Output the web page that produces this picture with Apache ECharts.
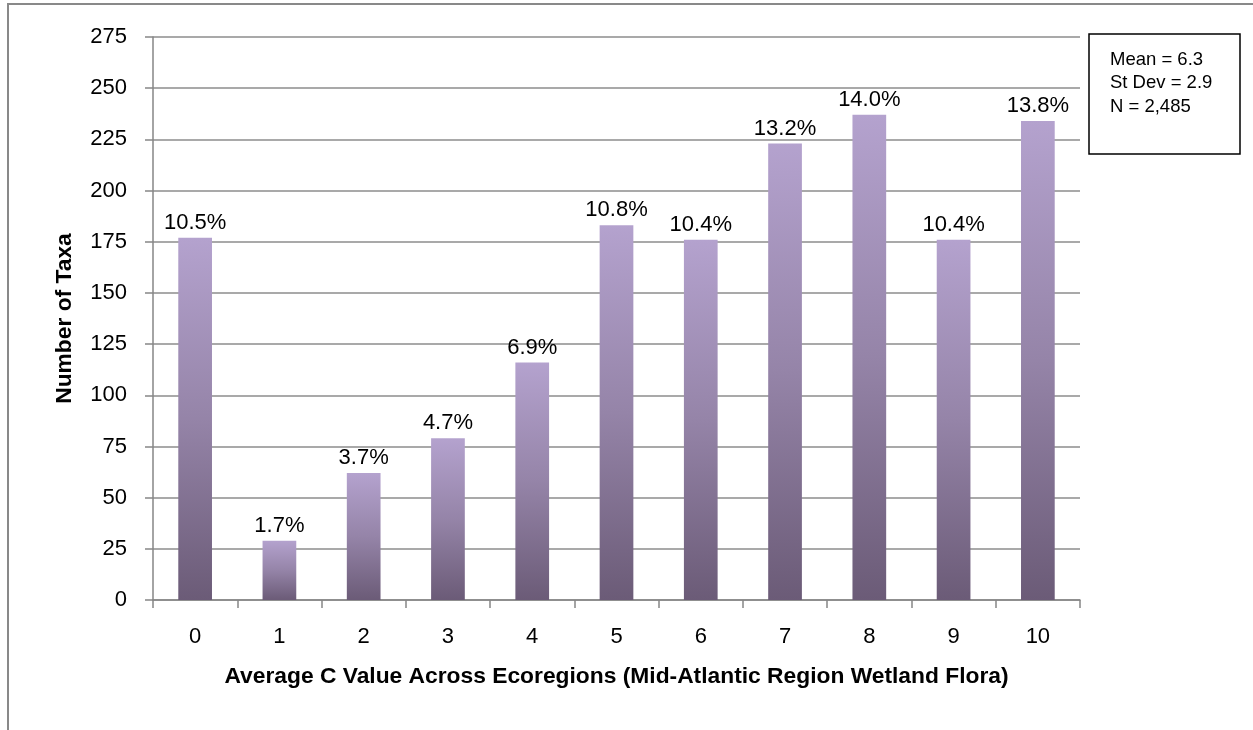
<!DOCTYPE html>
<html>
<head>
<meta charset="utf-8">
<script src="https://cdn.jsdelivr.net/npm/echarts@6/dist/echarts.min.js"></script>
<style>
html,body{margin:0;padding:0;background:#fff;}
#chart{width:1253px;height:730px;}
</style>
</head>
<body>
<div id="chart"></div>
<script>
var categories = ['0','1','2','3','4','5','6','7','8','9','10'];
var taxaCounts = [177, 29, 62, 79, 116, 183, 176, 223, 237, 176, 234];
var percentLabels = ['10.5%','1.7%','3.7%','4.7%','6.9%','10.8%','10.4%','13.2%','14.0%','10.4%','13.8%'];
var yTicks = {min: 0, max: 275, interval: 25};
var statsLines = ['Mean = 6.3', 'St Dev = 2.9', 'N = 2,485'];
var xTitle = 'Average C Value Across Ecoregions (Mid-Atlantic Region Wetland Flora)';
var yTitle = 'Number of Taxa';

var FONT = 'Liberation Sans';
var chart = echarts.init(document.getElementById('chart'), null, {renderer: 'canvas'});
var option = {
  backgroundColor: '#ffffff',
  animation: false,
  grid: {left: 153, right: 173, top: 37, bottom: 130},
  xAxis: {
    type: 'category',
    data: categories,
    name: xTitle,
    nameLocation: 'middle',
    nameGap: 65,
    nameTextStyle: {fontFamily: FONT, fontSize: 22.8, fontWeight: 'bold', color: '#000'},
    axisLine: {lineStyle: {color: '#868686', width: 1.5}},
    axisTick: {show: true, length: 8, lineStyle: {color: '#868686', width: 1.5}},
    axisLabel: {fontFamily: FONT, fontSize: 22, color: '#000', margin: 26}
  },
  yAxis: {
    type: 'value',
    min: yTicks.min,
    max: yTicks.max,
    interval: yTicks.interval,
    name: yTitle,
    nameLocation: 'middle',
    nameGap: 77,
    nameRotate: 90,
    nameTextStyle: {fontFamily: FONT, fontSize: 22.8, fontWeight: 'bold', color: '#000'},
    axisLine: {show: true, lineStyle: {color: '#868686', width: 1.5}},
    axisTick: {show: true, length: 8, lineStyle: {color: '#868686', width: 1.5}},
    axisLabel: {fontFamily: FONT, fontSize: 22, color: '#000', margin: 26},
    splitLine: {show: true, lineStyle: {color: '#8c8c8c', width: 1.5}}
  },
  series: [{
    type: 'bar',
    data: taxaCounts,
    barWidth: '40%',
    itemStyle: {
      color: new echarts.graphic.LinearGradient(0, 0, 0, 1, [
        {offset: 0, color: '#B4A2CE'},
        {offset: 0.5, color: '#9584A8'},
        {offset: 1, color: '#6B5B77'}
      ])
    },
    label: {
      show: true,
      position: 'top',
      distance: 4,
      fontFamily: FONT,
      fontSize: 22,
      color: '#000',
      formatter: function (p) { return percentLabels[p.dataIndex]; }
    }
  }],
  graphic: [
    {
      type: 'rect',
      silent: true,
      shape: {x: 8, y: 4, width: 2000, height: 2000},
      style: {fill: null, stroke: '#898989', lineWidth: 2}
    },
    {
      type: 'rect',
      silent: true,
      shape: {x: 1089, y: 34, width: 151, height: 120},
      style: {fill: '#fff', stroke: '#000', lineWidth: 1.5}
    },
    {
      type: 'text',
      silent: true,
      left: 1110,
      top: 48,
      style: {
        text: statsLines.join('\n'),
        font: '18.5px ' + FONT,
        lineHeight: 23.5,
        fill: '#000'
      }
    }
  ]
};
chart.setOption(option);
</script>
</body>
</html>
